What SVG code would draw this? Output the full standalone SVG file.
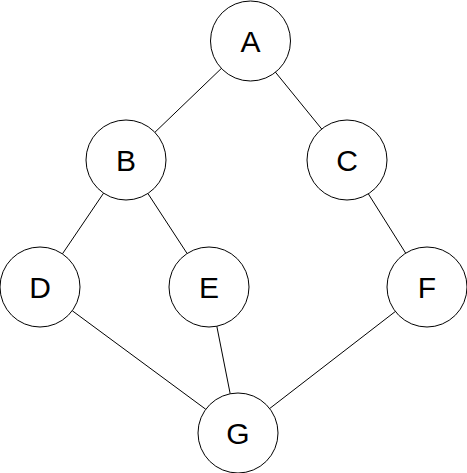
<svg xmlns="http://www.w3.org/2000/svg" width="467" height="473" viewBox="0 0 467 473">
<style>
.n circle{fill:#fff;stroke:#000;stroke-width:1}
.n text{font-family:"Liberation Sans",Arial,sans-serif;font-size:30px;fill:#000;text-anchor:middle}
.e line{stroke:#000;stroke-width:1}
</style>
<rect width="467" height="473" fill="#fff"/>
<g id="edges" class="e">
<line x1="221.1" y1="68.7" x2="154.9" y2="132.3"/>
<line x1="275.3" y1="72" x2="321.7" y2="129"/>
<line x1="103.6" y1="193.1" x2="62.4" y2="253.9"/>
<line x1="147.9" y1="193.5" x2="187.1" y2="253.5"/>
<line x1="368.3" y1="193.8" x2="405.7" y2="253.2"/>
<line x1="72.2" y1="310.7" x2="205.8" y2="409.3"/>
<line x1="216.8" y1="326.2" x2="230.2" y2="393.8"/>
<line x1="395.3" y1="311.5" x2="269.7" y2="408.5"/>
</g>
<g id="A" class="n"><circle cx="250.5" cy="41" r="40"/><text x="250.5" y="51.5">A</text></g>
<g id="B" class="n"><circle cx="126" cy="160" r="40"/><text x="126" y="170.5">B</text></g>
<g id="C" class="n"><circle cx="347" cy="160" r="40"/><text x="347" y="170.5">C</text></g>
<g id="D" class="n"><circle cx="40" cy="287" r="40"/><text x="40" y="297.5">D</text></g>
<g id="E" class="n"><circle cx="209" cy="287" r="40"/><text x="209" y="297.5">E</text></g>
<g id="F" class="n"><circle cx="427" cy="287" r="40"/><text x="427" y="297.5">F</text></g>
<g id="G" class="n"><circle cx="238" cy="433" r="40"/><text x="238" y="443.5">G</text></g>
</svg>
